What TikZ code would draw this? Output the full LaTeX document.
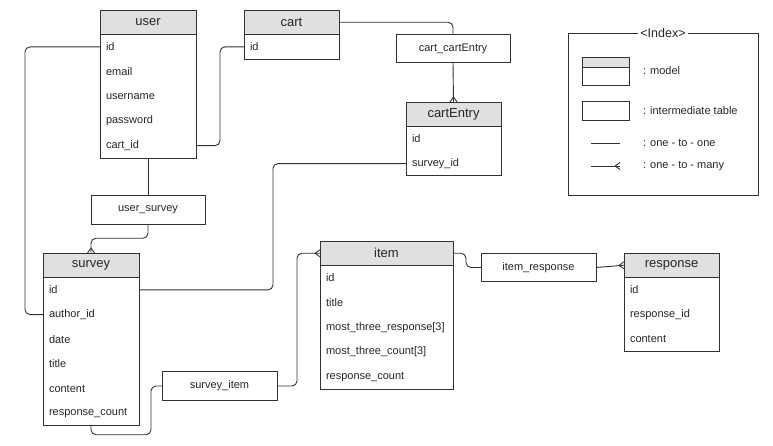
\documentclass[tikz,border=0pt]{standalone}
\usepackage{fontspec}
\setmainfont{Liberation Sans}
\usetikzlibrary{positioning,fit,decorations.markings}

\definecolor{headgray}{RGB}{224,224,224}
\definecolor{linegray}{RGB}{50,50,50}

\begin{document}
\begin{tikzpicture}[x=1pt, y=-1pt, node distance=0pt,
  every node/.style={outer sep=0pt, text=black!85},
  tblhead/.style={draw=linegray, line width=0.9pt, fill=headgray, minimum height=24.5pt, inner sep=0pt, anchor=north west, font=\fontsize{13}{15}\selectfont},
  tblrow/.style={text width=#1, minimum height=24.7pt, inner xsep=6pt, inner ysep=0pt, align=left, font=\fontsize{11}{13}\selectfont},
  tblbody/.style={draw=linegray, line width=0.9pt, inner sep=0pt},
  linkbox/.style={draw=linegray, line width=0.9pt, minimum height=28.5pt, inner sep=0pt, font=\fontsize{11}{13}\selectfont},
  legtext/.style={anchor=west, inner sep=0pt, font=\fontsize{11}{13}\selectfont},
  conn/.style={draw=linegray, line width=0.9pt, rounded corners=5pt},
  many/.style={postaction={decorate}, decoration={markings, mark=at position 1 with {\draw[linegray, line width=0.9pt, sharp corners] (-5pt,0pt) -- (0pt,3.5pt) (-5pt,0pt) -- (0pt,-3.5pt);}}}
]
  \useasboundingbox (0,0) rectangle (773,445);

  % user
  \node[tblhead, minimum width=96pt] (user) at (100,10) {user};
  \node[tblrow=84pt, below=of user] (user-id) {id};
  \node[tblrow=84pt, below=of user-id] (user-email) {email};
  \node[tblrow=84pt, below=of user-email] (user-username) {username};
  \node[tblrow=84pt, below=of user-username] (user-password) {password};
  \node[tblrow=84pt, below=of user-password] (user-cartid) {cart\_id};
  \node[tblbody, fit=(user-id)(user-cartid)] (user-body) {};

  % cart
  \node[tblhead, minimum width=95pt] (cart) at (244,10) {cart};
  \node[tblrow=83pt, below=of cart] (cart-id) {id};
  \node[tblbody, fit=(cart-id)] (cart-body) {};

  % cartEntry
  \node[tblhead, minimum width=95pt] (cartentry) at (406,102) {cartEntry};
  \node[tblrow=83pt, below=of cartentry] (cartentry-id) {id};
  \node[tblrow=83pt, below=of cartentry-id] (cartentry-surveyid) {survey\_id};
  \node[tblbody, fit=(cartentry-id)(cartentry-surveyid)] (cartentry-body) {};

  % survey
  \node[tblhead, minimum width=96pt] (survey) at (43,253) {survey};
  \node[tblrow=84pt, below=of survey] (survey-id) {id};
  \node[tblrow=84pt, below=of survey-id] (survey-authorid) {author\_id};
  \node[tblrow=84pt, below=of survey-authorid] (survey-date) {date};
  \node[tblrow=84pt, below=of survey-date] (survey-title) {title};
  \node[tblrow=84pt, below=of survey-title] (survey-content) {content};
  \node[tblrow=84pt, below=of survey-content] (survey-count) {response\_count};
  \node[tblbody, fit=(survey-id)(survey-count)] (survey-body) {};

  % item
  \node[tblhead, minimum width=133pt] (item) at (320,241) {item};
  \node[tblrow=121pt, below=of item] (item-id) {id};
  \node[tblrow=121pt, below=of item-id] (item-title) {title};
  \node[tblrow=121pt, below=of item-title] (item-mtr) {most\_three\_response[3]};
  \node[tblrow=121pt, below=of item-mtr] (item-mtc) {most\_three\_count[3]};
  \node[tblrow=121pt, below=of item-mtc] (item-count) {response\_count};
  \node[tblbody, fit=(item-id)(item-count)] (item-body) {};

  % response
  \node[tblhead, minimum width=95pt] (response) at (624,253) {response};
  \node[tblrow=83pt, below=of response] (response-id) {id};
  \node[tblrow=83pt, below=of response-id] (response-rid) {response\_id};
  \node[tblrow=83pt, below=of response-rid] (response-content) {content};
  \node[tblbody, fit=(response-id)(response-content)] (response-body) {};

  % intermediate tables
  \node[linkbox, minimum width=114pt] (cartlink) at (453,48.5) {cart\_cartEntry};
  \node[linkbox, minimum width=114pt] (userlink) at (148,210) {user\_survey};
  \node[linkbox, minimum width=115pt] (surveylink) at (219.5,386) {survey\_item};
  \node[linkbox, minimum width=115pt] (itemlink) at (538.5,267.5) {item\_response};

  % relations
  \draw[conn] (user-id.west) -- ++(-75,0) |- (survey-authorid.west);
  \draw[conn] (cart-id.west) -- ++(-24,0) |- (user-cartid.east);
  \draw[conn] (cart.east) -| (cartlink.north);
  \draw[conn, many] (cartlink.south) -- (cartentry.north);
  \draw[conn] (user-body.south) -- (userlink.north);
  \draw[conn, many] (userlink.south) -- ++(0,14) -| (survey.north);
  \draw[conn] (cartentry-surveyid.west) -- ++(-133,0) |- (survey-id.east);
  \draw[conn] (survey-body.south) -- ++(0,9) -- ++(60,0) |- (surveylink.west);
  \draw[conn, many] (surveylink.east) -- ++(20,0) |- (item.west);
  \draw[conn] (item.east) -- ++(13,0) |- (itemlink.west);
  \draw[conn, many] (itemlink.east) -- (response.west);

  % index
  \node[draw=linegray, line width=0.9pt, minimum width=190pt, minimum height=162pt, anchor=north west] (legend) at (568,33) {};
  \node[fill=white, inner xsep=2pt, inner ysep=1pt, font=\fontsize{12.5}{14}\selectfont] (legend-title) at (legend.north) {<Index>};
  \node[tblhead, minimum width=47pt, minimum height=10pt] (key-head) at (582,57) {};
  \node[draw=linegray, line width=0.9pt, minimum width=47pt, minimum height=18pt, below=of key-head] (key-body) {};
  \node[legtext] (key-model) at (643,71) {: model};
  \node[draw=linegray, line width=0.9pt, minimum width=47pt, minimum height=19pt, anchor=north west] (key-link) at (582,101) {};
  \node[legtext] (key-linktext) at (643,110.5) {: intermediate table};
  \coordinate (one-a) at (591,143);
  \coordinate (one-b) at (620,143);
  \draw[conn] (one-a) -- (one-b);
  \node[legtext] (key-one) at (643,143) {: one - to - one};
  \coordinate (many-a) at (591,166);
  \coordinate (many-b) at (620,166);
  \draw[conn, many] (many-a) -- (many-b);
  \node[legtext] (key-many) at (643,166) {: one - to - many};
\end{tikzpicture}
\end{document}
